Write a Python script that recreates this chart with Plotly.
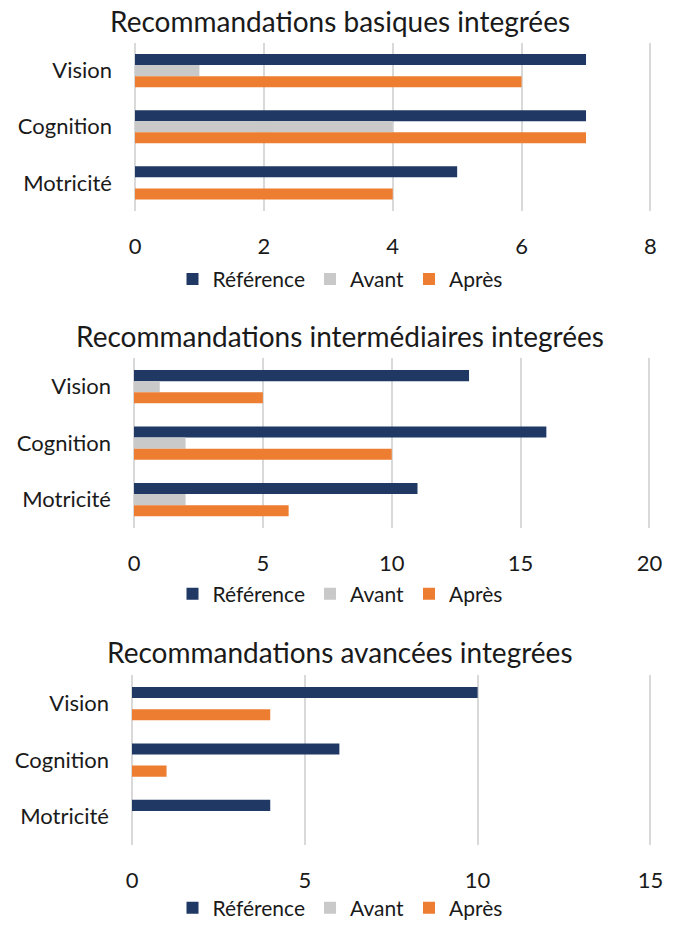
import plotly.graph_objects as go

categories = ["Vision", "Cognition", "Motricité"]
series_names = ["Référence", "Avant", "Après"]

titles = [
    "Recommandations basiques integrées",
    "Recommandations intermédiaires integrées",
    "Recommandations avancées integrées",
]

basic_reference = [7, 7, 5]
basic_avant = [1, 4, 0]
basic_apres = [6, 7, 4]

inter_reference = [13, 16, 11]
inter_avant = [1, 2, 2]
inter_apres = [5, 10, 6]

adv_reference = [10, 6, 4]
adv_avant = [0, 0, 0]
adv_apres = [4, 1, 0]

x_ranges = [[0, 8], [0, 20], [0, 15]]
x_dticks = [2, 5, 5]

colors = ["#203864", "#C9C9C9", "#ED7D31"]
FONT = "Lato"
TEXT = "#1a1a1a"

W, H = 680, 929
panels = [
    [basic_reference, basic_avant, basic_apres],
    [inter_reference, inter_avant, inter_apres],
    [adv_reference, adv_avant, adv_apres],
]
# pixel geometry (top, bottom, left, right) of each plot area
geom = [(43, 213, 135, 652), (362, 533, 134, 651), (682, 853, 132, 652)]
title_y = [21, 339, 658]
legend_y = [282, 600, 917]
center_x = 340


def px(x):
    return x / W


def py(y):
    return 1 - y / H


fig = go.Figure()
for i, (vals, (t, b, l, r)) in enumerate(zip(panels, geom)):
    sfx = "" if i == 0 else str(i + 1)
    for name, v, c in zip(series_names, vals, colors):
        fig.add_trace(go.Bar(
            x=v, y=categories, name=name, orientation="h",
            marker=dict(color=c, line=dict(width=0)),
            xaxis="x" + sfx, yaxis="y" + sfx,
            legend="legend" + sfx,
        ))
    lo, hi = x_ranges[i]
    fig.layout["xaxis" + sfx] = dict(
        domain=[px(l), px(r)], anchor="y" + sfx, range=[lo, hi * 1.003],
        dtick=x_dticks[i], tick0=0, showgrid=True, gridcolor="#D9D9D9",
        gridwidth=1.5, zeroline=True, zerolinecolor="#D9D9D9", zerolinewidth=1.5,
        showline=False, ticks="", ticklabelstandoff=20, automargin=False,
        tickfont=dict(family=FONT, size=22, color=TEXT), fixedrange=True,
    )
    fig.layout["yaxis" + sfx] = dict(
        domain=[py(b), py(t)], anchor="x" + sfx,
        autorange="reversed", showgrid=False, showline=False, ticks="",
        ticklabelstandoff=22, automargin=False,
        tickfont=dict(family=FONT, size=22, color=TEXT),
    )
    fig.layout["legend" + sfx] = dict(
        orientation="h", x=px(center_x), xanchor="center", y=py(legend_y[i]),
        yanchor="middle", font=dict(family=FONT, size=21, color=TEXT),
        bgcolor="rgba(0,0,0,0)", itemclick=False,
    )
    fig.add_annotation(
        text=titles[i], x=px(center_x), xref="paper", y=py(title_y[i]), yref="paper",
        xanchor="center", yanchor="middle", showarrow=False,
        font=dict(family=FONT, size=28, color=TEXT),
    )

fig.update_layout(
    width=W, height=H, margin=dict(l=0, r=0, t=0, b=0),
    barmode="group", bargap=0.41, bargroupgap=0,
    paper_bgcolor="white", plot_bgcolor="white",
    font=dict(family=FONT, color=TEXT),
)

fig.write_html(
    "out.html",
    config={"displayModeBar": False},
    post_script="document.body.style.margin='0';document.body.style.overflow='hidden';",
)
